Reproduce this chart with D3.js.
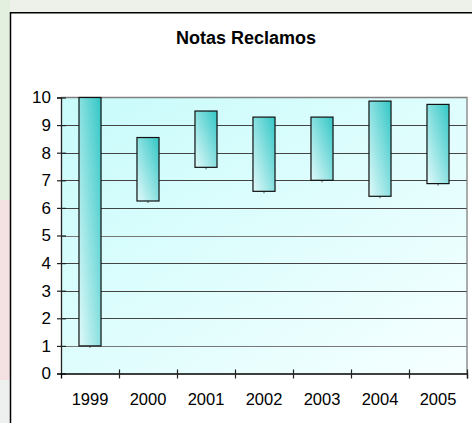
<!DOCTYPE html>
<html>
<head>
<meta charset="utf-8">
<script src="https://cdn.jsdelivr.net/npm/d3@7"></script>
<style>
  body { margin: 0; background: #fff; overflow: hidden; }
  svg { display: block; }
  text { font-family: Arial, "Liberation Sans", sans-serif; fill: #000; }
</style>
</head>
<body>
<div class="chart"></div>
<script>
// data
var years = ["1999", "2000", "2001", "2002", "2003", "2004", "2005"];
var lowValues = [1, 6.25, 7.47, 6.6, 7.0, 6.42, 6.88];
var highValues = [10, 8.55, 9.51, 9.29, 9.29, 9.87, 9.75];
var yTicks = [0, 1, 2, 3, 4, 5, 6, 7, 8, 9, 10];
var chartTitle = "Notas Reclamos";

var svgWidth = 472;
var svgHeight = 423;

var plot = { left: 61, right: 467, top: 97.5, bottom: 373.5 };

var svg = d3.select(".chart")
  .append("svg")
  .attr("width", svgWidth)
  .attr("height", svgHeight);

var defs = svg.append("defs");

var plotGrad = defs.append("linearGradient")
  .attr("id", "plotGrad")
  .attr("x1", 0).attr("y1", 0).attr("x2", 1).attr("y2", 1);
plotGrad.append("stop").attr("offset", "0%").attr("stop-color", "#c8fbfb");
plotGrad.append("stop").attr("offset", "100%").attr("stop-color", "#f6ffff");

var barGrad = defs.append("linearGradient")
  .attr("id", "barGrad")
  .attr("x1", 0).attr("y1", 1).attr("x2", 1).attr("y2", 0);
barGrad.append("stop").attr("offset", "0%").attr("stop-color", "#e2fafa");
barGrad.append("stop").attr("offset", "100%").attr("stop-color", "#33c6c6");

// faded background strips around the chart box
svg.append("rect").attr("x", 0).attr("y", 0).attr("width", svgWidth).attr("height", 13).attr("fill", "#eef0ea");
svg.append("rect").attr("x", 0).attr("y", 0).attr("width", 10).attr("height", 200).attr("fill", "#e3f0df");
svg.append("rect").attr("x", 0).attr("y", 200).attr("width", 10).attr("height", 180).attr("fill", "#f4e2e2");
svg.append("rect").attr("x", 0).attr("y", 380).attr("width", 10).attr("height", 43).attr("fill", "#eef0f0");

// chart box
svg.append("rect")
  .attr("x", 10.5).attr("y", 12.75)
  .attr("width", 480).attr("height", 440)
  .attr("fill", "#fff")
  .attr("stroke", "#000")
  .attr("stroke-width", 1.5);

svg.append("text")
  .attr("x", 246)
  .attr("y", 44)
  .attr("text-anchor", "middle")
  .attr("font-size", "18px")
  .attr("font-weight", "bold")
  .text(chartTitle);

// scales
var xScale = d3.scaleBand()
  .domain(years)
  .range([plot.left, plot.right])
  .paddingInner(0.62)
  .paddingOuter(0.31);

var xEdge = d3.scaleLinear()
  .domain([0, years.length])
  .range([plot.left, plot.right]);

var yScale = d3.scaleLinear()
  .domain([0, 10])
  .range([plot.bottom, plot.top]);

// plot area
svg.append("rect")
  .attr("x", plot.left).attr("y", plot.top)
  .attr("width", plot.right - plot.left)
  .attr("height", plot.bottom - plot.top)
  .attr("fill", "url(#plotGrad)");

svg.append("g")
  .selectAll("line")
  .data(yTicks.filter(d => d > 0 && d < 10))
  .enter()
  .append("line")
  .attr("x1", plot.left).attr("x2", plot.right)
  .attr("y1", d => Math.round(yScale(d)) + 0.5)
  .attr("y2", d => Math.round(yScale(d)) + 0.5)
  .attr("stroke", d => (d == 1 || d == 5) ? "#777" : "#444")
  .attr("stroke-width", 1.2);

// plot border top + right
svg.append("path")
  .attr("d", `M${plot.left},${plot.top}H${plot.right}V${plot.bottom}`)
  .attr("fill", "none")
  .attr("stroke", "#808080")
  .attr("stroke-width", 1.3);

// floating bars
var bars = svg.append("g")
  .selectAll("g")
  .data(years)
  .enter()
  .append("g");

bars.append("line")
  .attr("x1", d => xScale(d) + xScale.bandwidth() / 2)
  .attr("x2", d => xScale(d) + xScale.bandwidth() / 2)
  .attr("y1", (d, i) => yScale(lowValues[i]))
  .attr("y2", (d, i) => yScale(lowValues[i]) + 2)
  .attr("stroke", "#555");

bars.append("rect")
  .attr("x", d => xScale(d))
  .attr("width", xScale.bandwidth())
  .attr("y", (d, i) => yScale(highValues[i]))
  .attr("height", (d, i) => yScale(lowValues[i]) - yScale(highValues[i]))
  .attr("fill", "url(#barGrad)")
  .attr("stroke", "#111")
  .attr("stroke-width", 1.2);

// y axis
var leftAxis = d3.axisLeft(yScale).tickValues(yTicks).tickSize(4).tickPadding(5);
var yAxis = svg.append("g")
  .attr("transform", `translate(${plot.left},0)`)
  .call(leftAxis);
yAxis.select(".domain").attr("stroke", "#222").attr("stroke-width", 1.3);
yAxis.selectAll(".tick line").attr("x2", -4).attr("x1", 5).attr("stroke", "#222").attr("stroke-width", 1.2);
yAxis.selectAll(".tick text")
  .attr("font-family", "Arial, 'Liberation Sans', sans-serif")
  .attr("font-size", "17px")
  .attr("fill", "#000")
  .attr("x", -10);

// x axis with ticks between categories
var bottomAxis = d3.axisBottom(xEdge).tickValues(d3.range(1, years.length + 1)).tickSize(5).tickFormat("");
var xAxis = svg.append("g")
  .attr("transform", `translate(0,${plot.bottom})`)
  .call(bottomAxis);
xAxis.select(".domain").attr("stroke", "#000").attr("stroke-width", 1.3);
xAxis.selectAll(".tick line").attr("y1", -4).attr("stroke", "#222").attr("stroke-width", 1.2);

svg.append("g")
  .selectAll("text")
  .data(years)
  .enter()
  .append("text")
  .attr("x", d => xScale(d) + xScale.bandwidth() / 2)
  .attr("y", 405)
  .attr("text-anchor", "middle")
  .attr("font-size", "16.5px")
  .text(d => d);
</script>
</body>
</html>
